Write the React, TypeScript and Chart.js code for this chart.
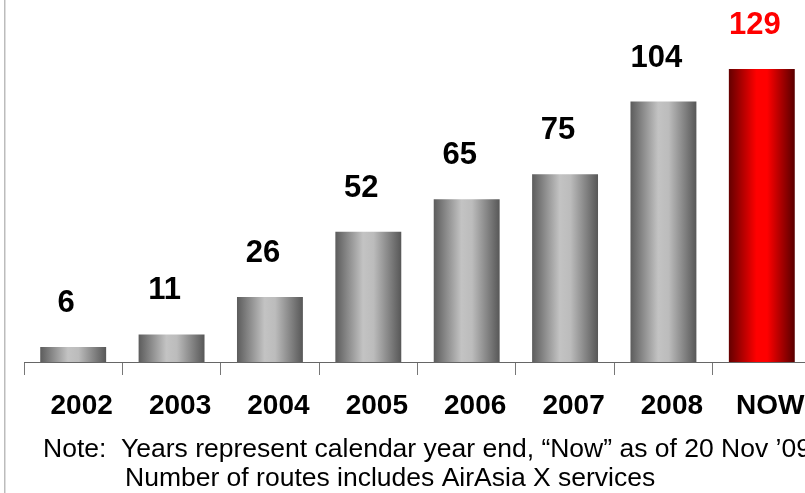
import { useEffect, useRef } from 'react';
import { Chart, registerables } from 'chart.js';

Chart.register(...registerables);

// Number of AirAsia routes by calendar year end
const categories = ['2002', '2003', '2004', '2005', '2006', '2007', '2008', 'NOW'];
const routeCounts = [6, 11, 26, 52, 65, 75, 104, 129];
const highlightIndex = 7;

const noteLines = [
  'Note:  Years represent calendar year end, \u201CNow\u201D as of 20 Nov \u201909',
  'Number of routes includes AirAsia X services',
];

const FONT = '"Liberation Sans", Arial, Helvetica, sans-serif';
const CANVAS_W = 830;
const CANVAS_H = 493;
const BAR_PCT = 0.67;

function barGradient(ctx: any) {
  const chart = ctx.chart;
  const xs = chart.scales?.x;
  const highlighted = ctx.dataIndex === highlightIndex;
  if (!xs || !chart.chartArea) return highlighted ? '#e00000' : '#999999';
  const center = xs.getPixelForValue(ctx.dataIndex);
  const barW = (xs.width / categories.length) * BAR_PCT;
  const left = center - barW / 2;
  const g = chart.ctx.createLinearGradient(left, 0, left + barW, 0);
  if (highlighted) {
    g.addColorStop(0, '#640000');
    g.addColorStop(0.42, '#ff0000');
    g.addColorStop(0.58, '#ff0000');
    g.addColorStop(1, '#580000');
  } else {
    g.addColorStop(0, '#5c5c5c');
    g.addColorStop(0.42, '#c3c3c3');
    g.addColorStop(0.58, '#bcbcbc');
    g.addColorStop(1, '#575757');
  }
  return g;
}

const decorations = {
  id: 'decorations',
  beforeDraw(chart: any) {
    const c = chart.ctx;
    c.save();
    c.fillStyle = '#ffffff';
    c.fillRect(0, 0, chart.width, chart.height);
    c.fillStyle = '#bcbcbc';
    c.fillRect(4, 0, 1, chart.height);
    c.fillStyle = '#dedede';
    c.fillRect(5, 0, 1, chart.height);
    c.restore();
  },
  afterDatasetsDraw(chart: any) {
    const c = chart.ctx;
    const meta = chart.getDatasetMeta(0);
    const top = chart.chartArea.top;
    c.save();
    c.font = `bold 31px ${FONT}`;
    c.textAlign = 'center';
    c.textBaseline = 'alphabetic';
    meta.data.forEach((bar: any, i: number) => {
      const barTop = Math.max(bar.y, top);
      c.fillStyle = i === highlightIndex ? '#ff0000' : '#000000';
      c.fillText(String(routeCounts[i]), bar.x - 7, barTop - 35);
    });
    c.restore();
  },
  afterDraw(chart: any) {
    const c = chart.ctx;
    c.save();
    c.font = `26.5px ${FONT}`;
    c.fillStyle = '#000000';
    c.textAlign = 'left';
    c.textBaseline = 'alphabetic';
    c.fillText(noteLines[0], 43, 457);
    c.fillText(noteLines[1], 125, 486);
    c.restore();
  },
};

export default function App() {
  const canvasRef = useRef<HTMLCanvasElement | null>(null);

  useEffect(() => {
    document.body.style.margin = '0';
    document.body.style.overflow = 'hidden';
    document.documentElement.style.overflow = 'hidden';
    const canvas = canvasRef.current;
    if (!canvas) return;
    const chart = new Chart(canvas, {
      type: 'bar',
      data: {
        labels: categories,
        datasets: [
          {
            data: routeCounts,
            backgroundColor: barGradient,
            borderWidth: 0,
            categoryPercentage: 1,
            barPercentage: BAR_PCT,
            clip: 0,
          },
        ],
      },
      options: {
        responsive: false,
        animation: false,
        devicePixelRatio: 1,
        layout: { padding: { left: 24, right: CANVAS_W - 811, top: 69, bottom: 56.4 } },
        plugins: {
          legend: { display: false },
          title: { display: false },
          tooltip: { enabled: false },
        },
        scales: {
          x: {
            offset: true,
            grid: {
              display: true,
              offset: true,
              drawOnChartArea: false,
              drawTicks: true,
              tickLength: 13,
              color: '#777777',
              lineWidth: 1,
            },
            border: { display: true, color: '#666666', width: 1 },
            ticks: {
              color: '#000000',
              padding: 14,
              labelOffset: 8.5,
              font: { family: FONT, size: 28, weight: 'bold' },
              maxRotation: 0,
              autoSkip: false,
            },
          },
          y: {
            display: false,
            min: 0,
            max: 117,
          },
        },
      },
      plugins: [decorations],
    });
    return () => chart.destroy();
  }, []);

  return (
    <div style={{ width: CANVAS_W, height: CANVAS_H, position: 'relative' }}>
      <canvas ref={canvasRef} width={CANVAS_W} height={CANVAS_H} />
    </div>
  );
}
